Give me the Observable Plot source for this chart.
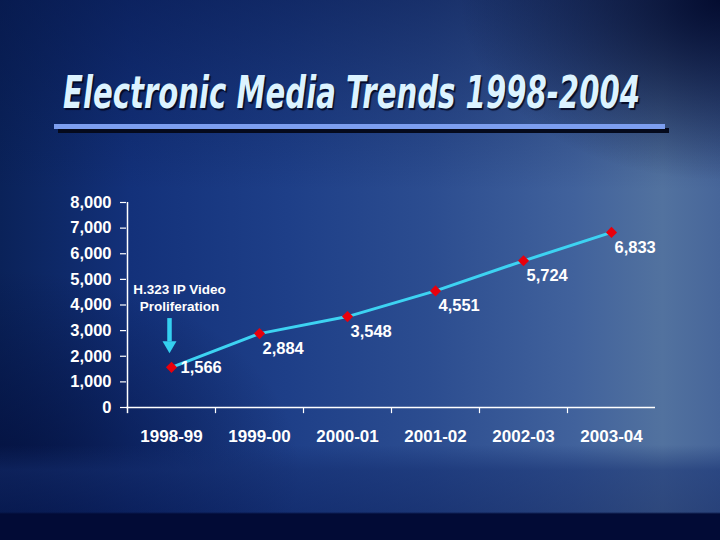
<!DOCTYPE html>
<html>
<head>
<meta charset="utf-8">
<script src="https://cdn.jsdelivr.net/npm/d3@7"></script>
<script src="https://cdn.jsdelivr.net/npm/@observablehq/plot@0.6"></script>
<style>
  html, body { margin: 0; padding: 0; }
  #page {
    position: relative; width: 720px; height: 540px; overflow: hidden;
    font-family: "Liberation Sans", Arial, sans-serif;
    background:
      linear-gradient(to bottom, rgba(0,0,0,0) 0px, rgba(0,0,0,0) 512px, #020b36 514px, #020b36 540px),
      linear-gradient(to bottom, rgba(0,0,0,0) 0px, rgba(0,0,0,0) 445px, rgba(20,45,110,0.55) 470px, rgba(10,30,90,0.5) 512px),
      radial-gradient(ellipse 260px 180px at 720px 0px, rgba(2,10,45,0.95), rgba(2,10,45,0)),
      radial-gradient(ellipse 300px 200px at 0px 470px, rgba(3,15,60,0.8), rgba(3,15,60,0)),
      linear-gradient(to bottom, rgba(5,20,70,0.5) 0px, rgba(5,20,70,0) 190px),
      linear-gradient(to right, #0a2259 0%, #13317a 18%, #1e3f88 40%, #2c4d90 60%, #41629c 80%, #52729f 92%, #47669a 100%);
  }
  #title {
    position: absolute; left: 63px; top: 66px; white-space: nowrap;
    font-family: "DejaVu Sans Condensed", "DejaVu Sans", sans-serif;
    font-weight: bold; font-style: italic; font-size: 45px; line-height: 54px;
    color: #dcf3ff; text-shadow: 2px 2px 1px rgba(0,0,20,0.8);
    transform-origin: 0 0;
  }
  #rule {
    position: absolute; left: 54px; top: 124px; width: 611px; height: 5px;
    background: #7d9ff0; box-shadow: 4px 4px 0 #050a1c;
  }
  #chart { position: absolute; left: 0; top: 180px; }
</style>
</head>
<body>
<div id="page">
  <div id="title">Electronic Media Trends 1998-2004</div>
  <div id="rule"></div>
  <div id="chart"></div>
</div>
<script>
const categories = ["1998-99", "1999-00", "2000-01", "2001-02", "2002-03", "2003-04"];
const values = [1566, 2884, 3548, 4551, 5724, 6833];
const yTicks = [0, 1000, 2000, 3000, 4000, 5000, 6000, 7000, 8000];
const annotationText = "H.323 IP Video\nProliferation";
const annotationCategory = "1998-99";
const annotationY = 4310;
const arrowShaft = [3470, 2560];
const arrowHeadY = 2430;

const title = document.getElementById("title");
const tw = title.getBoundingClientRect().width;
title.style.transform = `scaleX(${577 / tw})`;

const data = categories.map((c, i) => ({cat: c, value: values[i]}));
const fmt = d3.format(",");

const chart = Plot.plot({
  width: 720,
  height: 277,
  marginLeft: 126,
  marginRight: 65,
  marginTop: 22,
  marginBottom: 50,
  style: {background: "transparent", color: "white", fontFamily: "'Liberation Sans', Arial, sans-serif", overflow: "visible"},
  x: {type: "band", domain: categories, padding: 0, label: null},
  y: {domain: [0, 8000], label: null},
  marks: [
    Plot.axisY({ticks: yTicks, tickFormat: fmt, tickSize: 6, tickPadding: 9, fontSize: 16.5, fontWeight: "bold", stroke: "white", strokeWidth: 1.2}),
    Plot.axisX({tickSize: 0, tickPadding: 22, fontSize: 17, fontWeight: "bold"}),
    Plot.ruleY([0], {stroke: "white", strokeWidth: 1.5}),
    Plot.ruleX([categories[0]], {dx: -44, y1: -240, y2: 8000, stroke: "white", strokeWidth: 1.5}),
    Plot.ruleX(categories.slice(1), {dx: -44, y1: -240, y2: 0, stroke: "white", strokeWidth: 1.2}),
    Plot.line(data, {x: "cat", y: "value", stroke: "#3dd3f2", strokeWidth: 3}),
    Plot.dot(data, {x: "cat", y: "value", symbol: "diamond2", r: 5, fill: "#e8000c", stroke: "none"}),
    Plot.text(data.slice(0, 1), {x: "cat", y: "value", text: d => fmt(d.value), dx: 9, dy: 0, textAnchor: "start", fill: "white", fontSize: 16.5, fontWeight: "bold"}),
    Plot.text(data.slice(1), {x: "cat", y: "value", text: d => fmt(d.value), dx: 3, dy: 15, textAnchor: "start", fill: "white", fontSize: 16.5, fontWeight: "bold"}),
    Plot.text([annotationText], {x: () => annotationCategory, y: () => annotationY, text: d => d, dx: 8, fill: "white", fontSize: 13.5, fontWeight: "bold", lineHeight: 1.25, textAnchor: "middle", style: "letter-spacing:0.6px"}),
    Plot.ruleX([annotationCategory], {y1: arrowShaft[0], y2: arrowShaft[1], dx: -2, stroke: "#34d0f0", strokeWidth: 4.5}),
    Plot.dot([annotationCategory], {x: d => d, y: () => arrowHeadY, dx: -2, symbol: "triangle", r: 5.2, rotate: 180, fill: "#34d0f0", stroke: "none"})
  ]
});
document.getElementById("chart").appendChild(chart);
</script>
</body>
</html>
